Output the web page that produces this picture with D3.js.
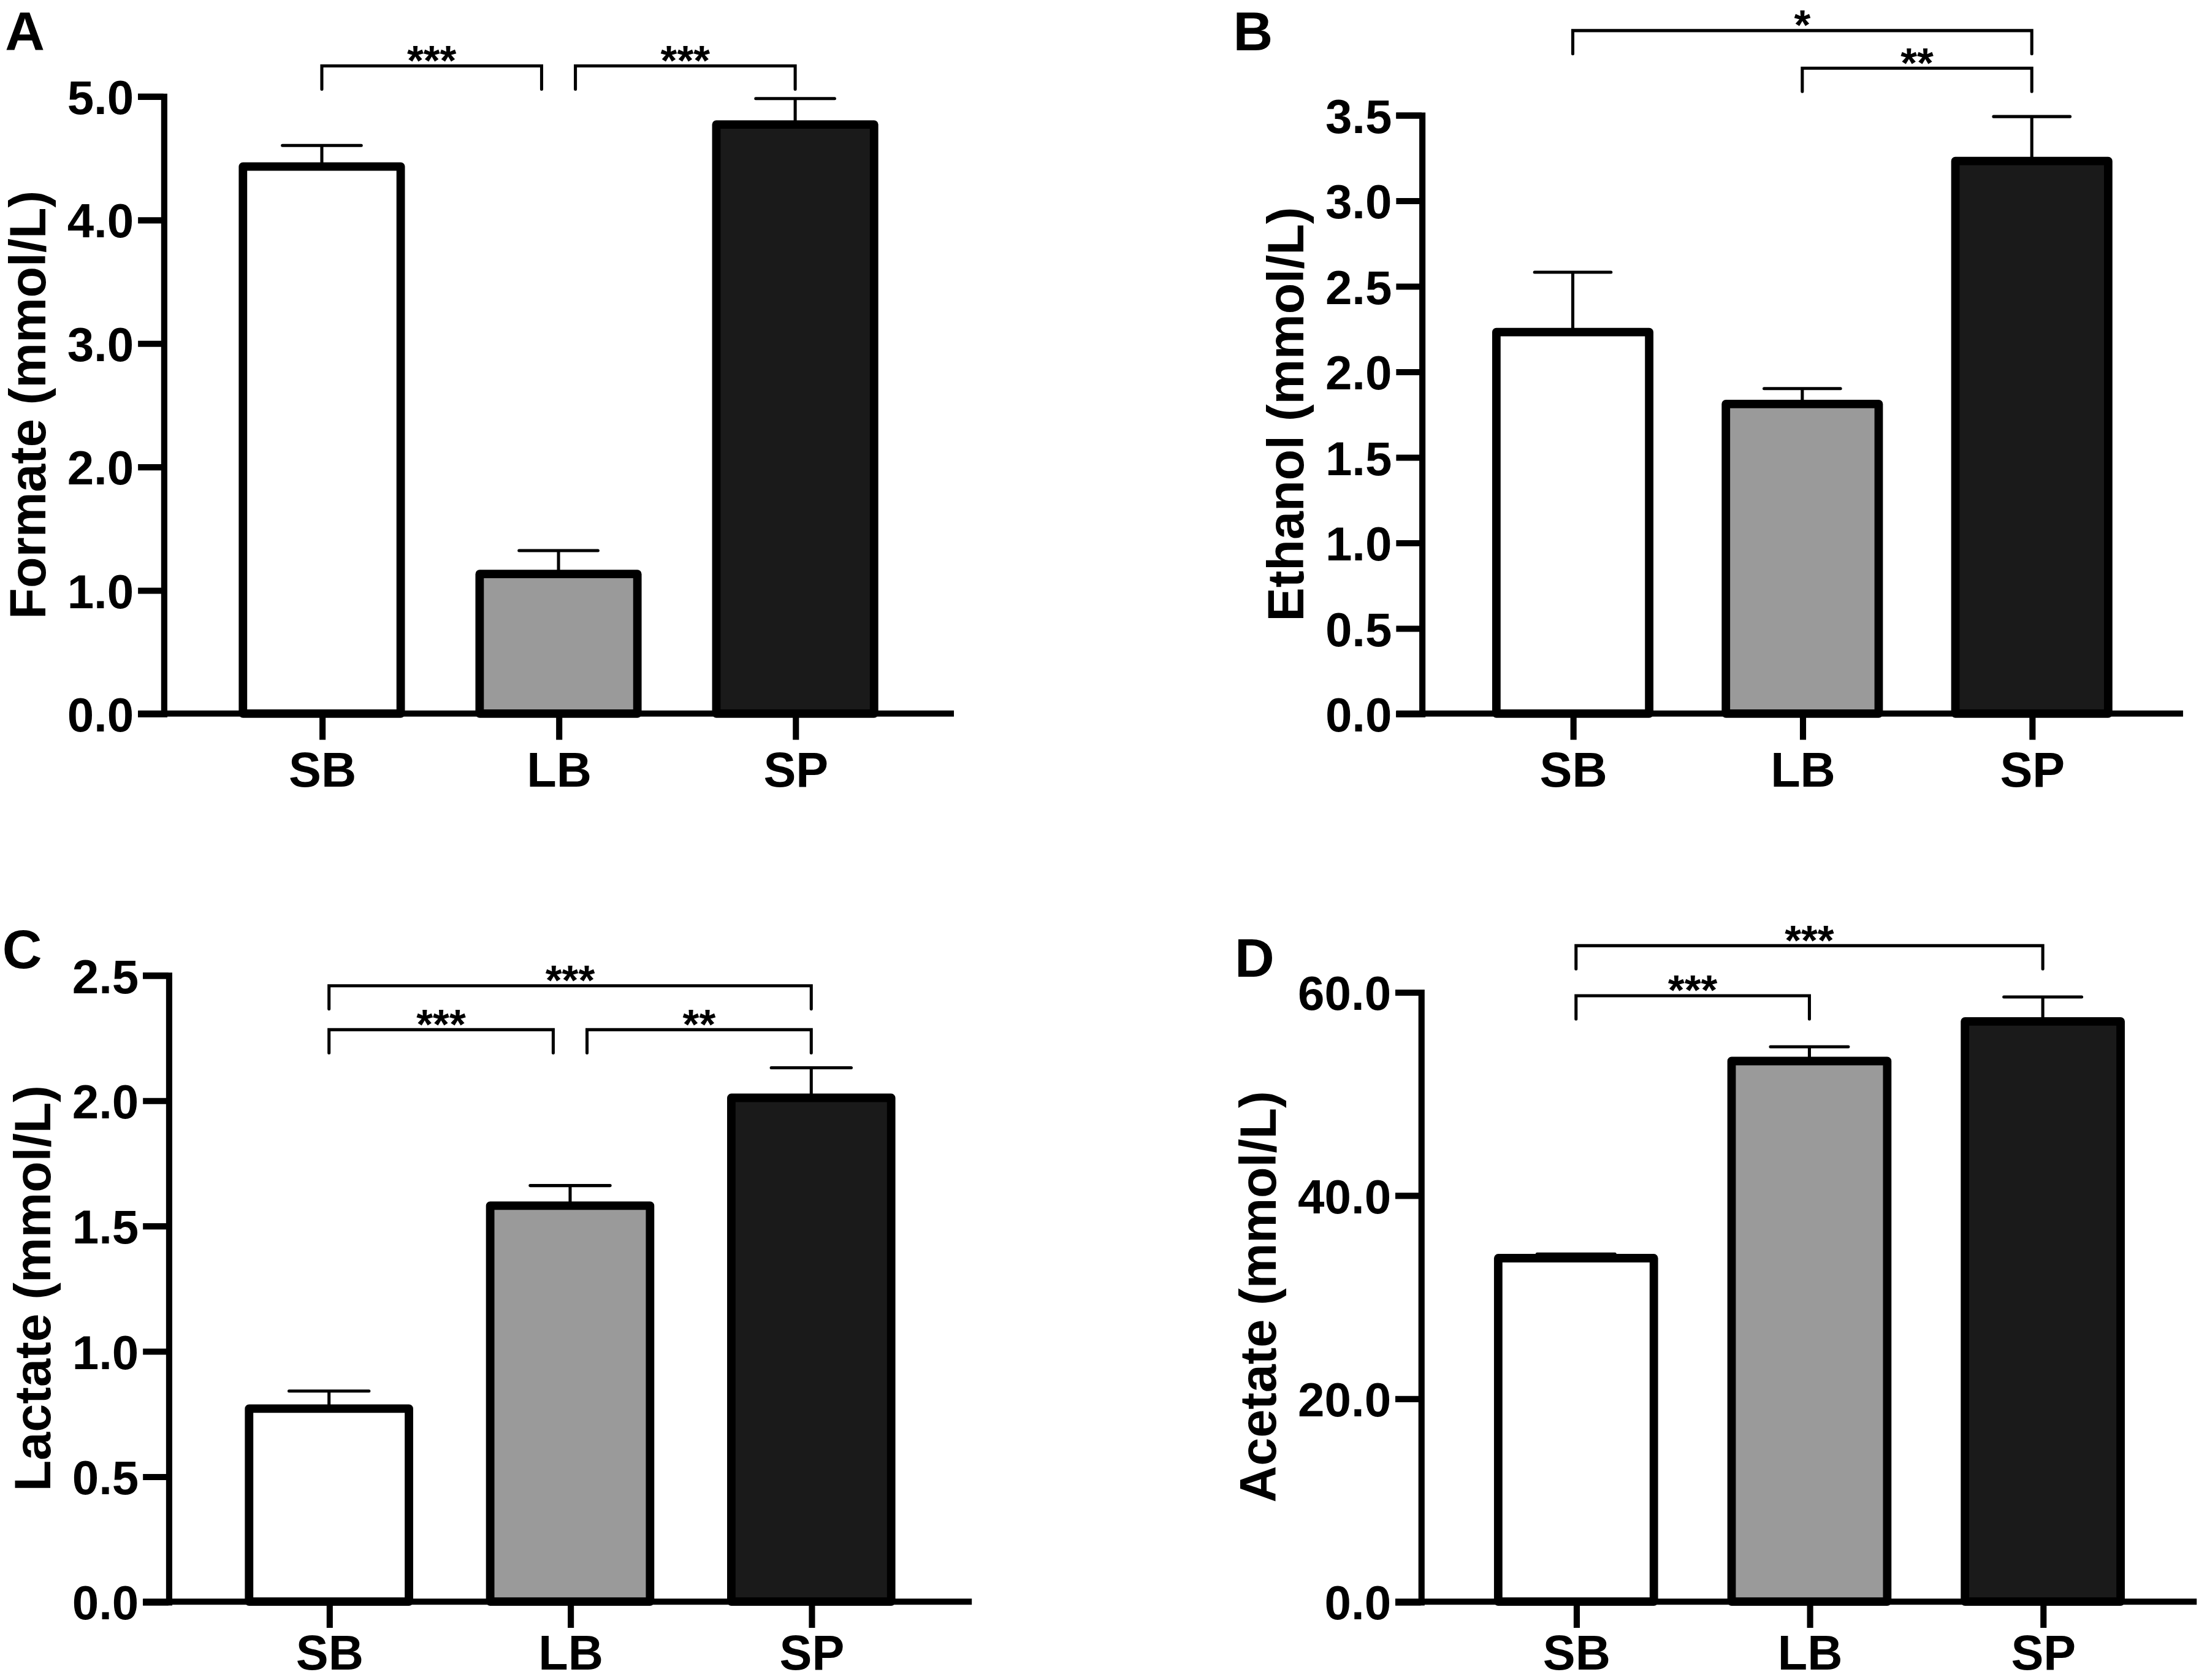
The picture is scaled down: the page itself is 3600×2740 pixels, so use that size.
<!DOCTYPE html>
<html>
<head>
<meta charset="utf-8">
<script src="https://cdn.jsdelivr.net/npm/d3@7"></script>
<style>
  body { margin: 0; background: #fff; }
  text { font-family: "Liberation Sans", Arial, sans-serif; font-weight: bold; fill: #000; }
</style>
</head>
<body>
<script>
// groups and values (mean and SEM, mmol/L)
const groups = ["SB", "LB", "SP"];
const barColors = ["#ffffff", "#9a9a9a", "#1a1a1a"];

const formateMean = [4.43, 1.13, 4.77];
const formateSem = [0.17, 0.19, 0.21];
const ethanolMean = [2.23, 1.81, 3.23];
const ethanolSem = [0.35, 0.09, 0.26];
const lactateMean = [0.77, 1.58, 2.01];
const lactateSem = [0.07, 0.08, 0.12];
const acetateMean = [33.8, 53.2, 57.1];
const acetateSem = [0.4, 1.4, 2.4];

const formateTicks = [0, 1, 2, 3, 4, 5];
const ethanolTicks = [0, 0.5, 1, 1.5, 2, 2.5, 3, 3.5];
const lactateTicks = [0, 0.5, 1, 1.5, 2, 2.5];
const acetateTicks = [0, 20, 40, 60];

// significance brackets: pair, stars, row (0 = highest)
const formateSig = [["SB", "LB", "***", 0], ["LB", "SP", "***", 0]];
const ethanolSig = [["SB", "SP", "*", 0], ["LB", "SP", "**", 1]];
const lactateSig = [["SB", "SP", "***", 0], ["SB", "LB", "***", 1], ["LB", "SP", "**", 1]];
const acetateSig = [["SB", "SP", "***", 0], ["SB", "LB", "***", 1]];

const W = 1567, H = 1192;
const svg = d3.select("body").append("svg")
  .attr("width", 3600).attr("height", 2740)
  .attr("viewBox", `0 0 ${W} ${H}`)
  .attr("preserveAspectRatio", "none");

const panels = [
  { letter: "A", lx: 3.6, ly: 35.6, title: "Formate (mmol/L)", mean: formateMean, sem: formateSem,
    ticks: formateTicks, sig: formateSig, axisX: 116.1, yTop: 68.2, y0: 506.3,
    x1: 228.5, x2: 564.6, xEnd: 677.3, barW: 112, rows: [46.8], labY: 52 },
  { letter: "B", lx: 875.6, ly: 35.6, title: "Ethanol (mmol/L)", mean: ethanolMean, sem: ethanolSem,
    ticks: ethanolTicks, sig: ethanolSig, axisX: 1009.4, yTop: 81.5, y0: 506.3,
    x1: 1116.7, x2: 1442.6, xEnd: 1550, barW: 108.5, rows: [21.7, 48.4], labY: 52 },
  { letter: "C", lx: 1.6, ly: 687, title: "Lactate (mmol/L)", mean: lactateMean, sem: lactateSem,
    ticks: lactateTicks, sig: lactateSig, axisX: 119.6, yTop: 691.8, y0: 1136.4,
    x1: 233.6, x2: 576, xEnd: 690, barW: 113.5, rows: [699.4, 730.6], labY: 48.2 },
  { letter: "D", lx: 876.6, ly: 693, title: "Acetate (mmol/L)", mean: acetateMean, sem: acetateSem,
    ticks: acetateTicks, sig: acetateSig, axisX: 1008.8, yTop: 703.8, y0: 1136.4,
    x1: 1119, x2: 1450.4, xEnd: 1559.7, barW: 110.5, rows: [671, 706.5], labY: 48.2 }
];

const tickLen = 18.1;
const fmt = d3.format(".1f");

panels.forEach(p => {
  const g = svg.append("g");

  const y = d3.scaleLinear()
    .domain([0, p.ticks[p.ticks.length - 1]])
    .range([p.y0, p.yTop]);
  const x = d3.scalePoint().domain(groups).range([p.x1, p.x2]);

  const rows = groups.map((k, i) => ({ k, m: p.mean[i], s: p.sem[i], c: barColors[i] }));

  // error bars (upper only), under the bars
  g.selectAll(".err").data(rows).enter().append("path")
    .attr("d", d => `M${x(d.k)},${y(d.m)}V${y(d.m + d.s)}M${x(d.k) - p.barW / 4},${y(d.m + d.s)}H${x(d.k) + p.barW / 4}`)
    .attr("fill", "none").attr("stroke", "#000").attr("stroke-width", 2.2)
    .attr("stroke-linecap", "round");

  g.selectAll(".bar").data(rows).enter().append("rect")
    .attr("x", d => x(d.k) - p.barW / 2)
    .attr("y", d => y(d.m))
    .attr("width", p.barW)
    .attr("height", d => p.y0 - y(d.m))
    .attr("fill", d => d.c)
    .attr("stroke", "#000").attr("stroke-width", 6)
    .attr("stroke-linejoin", "round");

  // y axis
  const ya = g.append("g")
    .attr("transform", `translate(${p.axisX},0)`)
    .call(d3.axisLeft(y).tickValues(p.ticks).tickFormat(fmt)
      .tickSize(tickLen).tickSizeOuter(tickLen).tickPadding(3));
  ya.selectAll("path, line").attr("stroke", "#000").attr("stroke-width", 4.4);
  ya.selectAll("text").attr("font-size", 34).attr("dy", "0.36em")
    .attr("font-family", null);

  // x axis
  g.append("line")
    .attr("x1", p.axisX - tickLen).attr("x2", p.xEnd)
    .attr("y1", p.y0).attr("y2", p.y0)
    .attr("stroke", "#000").attr("stroke-width", 4.4);
  const xa = g.append("g")
    .attr("transform", `translate(0,${p.y0})`)
    .call(d3.axisBottom(x).tickSize(18.6).tickSizeOuter(0));
  xa.select(".domain").remove();
  xa.selectAll("line").attr("stroke", "#000").attr("stroke-width", 4.4);
  xa.selectAll("text").attr("font-size", 34.5).attr("font-family", null)
    .attr("y", p.labY).attr("dy", null);

  // axis title, placed left of the widest tick label
  let minX = Infinity;
  ya.selectAll("text").each(function () {
    const b = this.getBBox();
    minX = Math.min(minX, p.axisX + b.x);
  });
  g.append("text")
    .attr("transform", `translate(${minX - 15.5},${(p.yTop + p.y0) / 2}) rotate(-90)`)
    .attr("text-anchor", "middle")
    .attr("font-size", 36)
    .text(p.title);

  // panel letter
  svg.append("text").attr("x", p.lx).attr("y", p.ly)
    .attr("font-size", 39).text(p.letter);

  // significance brackets
  const leg = 16.5;
  p.sig.forEach(([a, b, stars, row]) => {
    const shared = k => p.sig.some(s => s[3] === row &&
      !(s[0] === a && s[1] === b) && (s[0] === k || s[1] === k));
    let xa1 = x(a), xb1 = x(b);
    if (shared(a)) xa1 += 12;
    if (shared(b)) xb1 -= 12;
    const by = p.rows[row];
    g.append("path")
      .attr("d", `M${xa1},${by + leg}V${by}H${xb1}V${by + leg}`)
      .attr("fill", "none").attr("stroke", "#000").attr("stroke-width", 2.2)
      .attr("stroke-linecap", "round").attr("stroke-linejoin", "miter");
    g.append("text")
      .attr("x", (xa1 + xb1) / 2)
      .attr("y", by - 11 + 17.2)
      .attr("text-anchor", "middle")
      .attr("font-size", 30)
      .text(stars);
  });
});
</script>
</body>
</html>
